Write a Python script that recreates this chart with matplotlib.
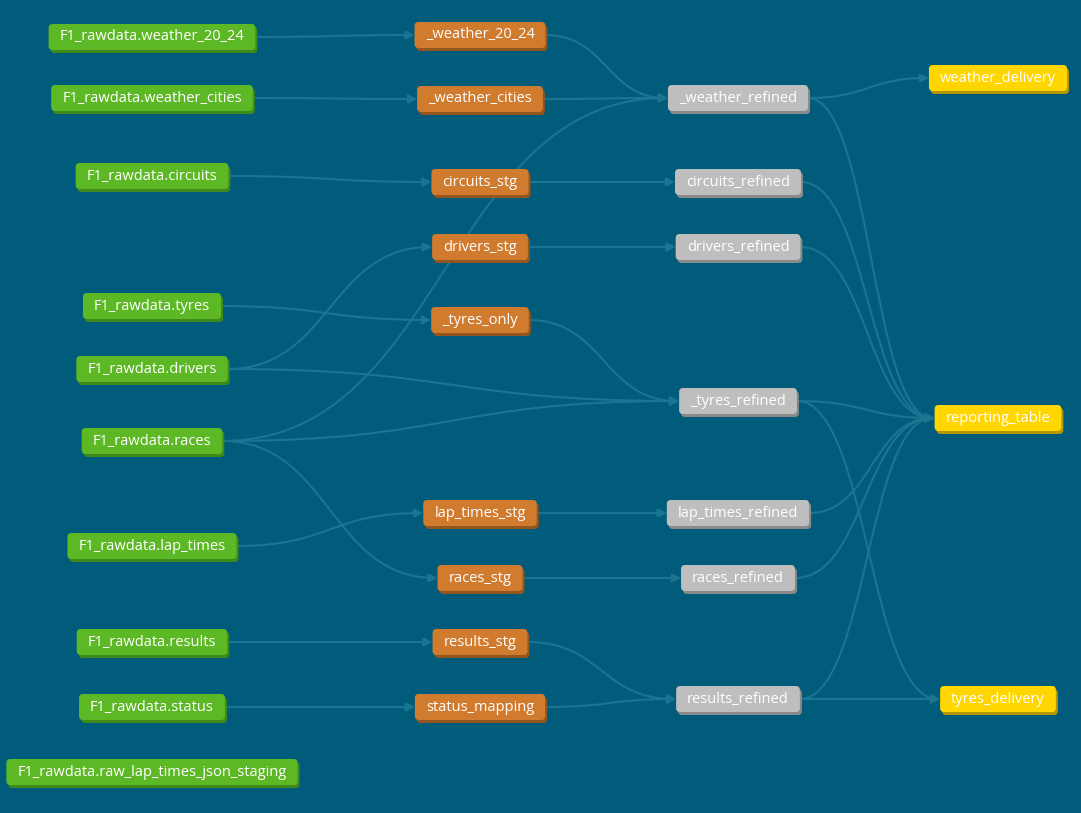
import matplotlib
matplotlib.use("Agg")
from matplotlib import pyplot as plt
from matplotlib.patches import FancyBboxPatch, FancyArrowPatch
from matplotlib.path import Path

# Nodes: name, layer, row (pixel y of centre)
sources = ["F1_rawdata.weather_20_24", "F1_rawdata.weather_cities", "F1_rawdata.circuits",
           "F1_rawdata.tyres", "F1_rawdata.drivers", "F1_rawdata.races", "F1_rawdata.lap_times",
           "F1_rawdata.results", "F1_rawdata.status", "F1_rawdata.raw_lap_times_json_staging"]
source_rows = [37, 98, 176, 306, 369, 441, 546, 642, 707, 772]
staging = ["_weather_20_24", "_weather_cities", "circuits_stg", "drivers_stg", "_tyres_only",
           "lap_times_stg", "races_stg", "results_stg", "status_mapping"]
staging_rows = [35, 99, 182, 247, 320, 513, 578, 642, 707]
refined = ["_weather_refined", "circuits_refined", "drivers_refined", "_tyres_refined",
           "lap_times_refined", "races_refined", "results_refined"]
refined_rows = [98, 182, 247, 401, 513, 578, 699]
marts = ["weather_delivery", "reporting_table", "tyres_delivery"]
mart_rows = [78, 418, 699]

edges = [
    ("F1_rawdata.weather_20_24", "_weather_20_24"), ("F1_rawdata.weather_cities", "_weather_cities"),
    ("F1_rawdata.circuits", "circuits_stg"), ("F1_rawdata.drivers", "drivers_stg"),
    ("F1_rawdata.tyres", "_tyres_only"), ("F1_rawdata.lap_times", "lap_times_stg"),
    ("F1_rawdata.races", "races_stg"), ("F1_rawdata.results", "results_stg"),
    ("F1_rawdata.status", "status_mapping"), ("F1_rawdata.races", "_weather_refined"),
    ("F1_rawdata.races", "_tyres_refined"), ("F1_rawdata.drivers", "_tyres_refined"),
    ("_weather_20_24", "_weather_refined"), ("_weather_cities", "_weather_refined"),
    ("circuits_stg", "circuits_refined"), ("drivers_stg", "drivers_refined"),
    ("_tyres_only", "_tyres_refined"), ("lap_times_stg", "lap_times_refined"),
    ("races_stg", "races_refined"), ("results_stg", "results_refined"),
    ("status_mapping", "results_refined"),
    ("_weather_refined", "weather_delivery"), ("_weather_refined", "reporting_table"),
    ("circuits_refined", "reporting_table"), ("drivers_refined", "reporting_table"),
    ("_tyres_refined", "reporting_table"), ("lap_times_refined", "reporting_table"),
    ("races_refined", "reporting_table"), ("results_refined", "reporting_table"),
    ("_tyres_refined", "tyres_delivery"), ("results_refined", "tyres_delivery"),
]

layer_x = [152, 480, 738, 998]
layer_colors = ["#5db826", "#d17b2f", "#bebebe", "#ffd600"]
layer_shadow = ["#3f8a1a", "#94561f", "#8a8a8a", "#b39600"]
BG = "#005c7a"
EDGE = "#1a7593"

fig = plt.figure(figsize=(10.81, 8.13), dpi=100, facecolor=BG)
ax = fig.add_axes([0, 0, 1, 1])
ax.set_xlim(0, 1081)
ax.set_ylim(813, 0)
ax.axis("off")
ax.set_facecolor(BG)
fig.canvas.draw()
renderer = fig.canvas.get_renderer()

boxes = {}
for layer, (names, rows) in enumerate([(sources, source_rows), (staging, staging_rows),
                                       (refined, refined_rows), (marts, mart_rows)]):
    for name, y in zip(names, rows):
        cx = layer_x[layer]
        t = ax.text(cx, y, name, ha="center", va="center", color="white",
                    fontsize=10.5, family="Open Sans", zorder=5)
        bb = t.get_window_extent(renderer)
        w = bb.width + 22
        h = 26
        boxes[name] = (cx - w / 2, cx + w / 2, y)
        ax.add_patch(FancyBboxPatch((cx - w / 2 + 2, y - h / 2 + 3), w, h,
                                    boxstyle="round,pad=0,rounding_size=4",
                                    fc=layer_shadow[layer], ec="none", zorder=3))
        ax.add_patch(FancyBboxPatch((cx - w / 2, y - h / 2), w, h,
                                    boxstyle="round,pad=0,rounding_size=4",
                                    fc=layer_colors[layer], ec="none", zorder=4))

for src, dst in edges:
    x0, y0 = boxes[src][1], boxes[src][2]
    x1, y1 = boxes[dst][0], boxes[dst][2]
    dx = (x1 - x0) * 0.5
    path = Path([(x0, y0), (x0 + dx, y0), (x1 - dx, y1), (x1, y1)],
                [Path.MOVETO, Path.CURVE4, Path.CURVE4, Path.CURVE4])
    ax.add_patch(FancyArrowPatch(path=path, arrowstyle="-|>,head_length=5,head_width=2.5",
                                 color=EDGE, lw=1.5, zorder=2))

fig.savefig("out.png", dpi=100, facecolor=BG)
